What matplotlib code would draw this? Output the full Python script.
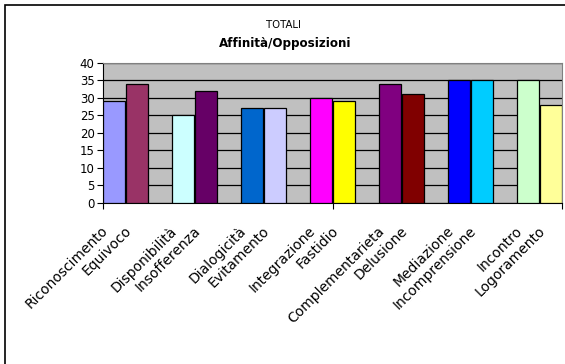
import matplotlib.pyplot as plt
from matplotlib.patches import Rectangle
from matplotlib.transforms import ScaledTranslation
import numpy as np

labels = ['Riconoscimento', 'Equivoco', 'Disponibilità', 'Insofferenza',
          'Dialogicità', 'Evitamento', 'Integrazione', 'Fastidio',
          'Complementarieta', 'Delusione', 'Mediazione', 'Incomprensione',
          'Incontro', 'Logoramento']
values = [29, 34, 25, 32, 27, 27, 30, 29, 34, 31, 35, 35, 35, 28]
colors = ['#9999FF', '#993366', '#CCFFFF', '#660066', '#0066CC', '#CCCCFF',
          '#FF00FF', '#FFFF00', '#800080', '#800000', '#0000FF', '#00CCFF',
          '#CCFFCC', '#FFFF99']

# pairs of bars, one empty slot between pairs
x = np.array([3 * (i // 2) + (i % 2) for i in range(len(values))])

fig = plt.figure(figsize=(5.65, 3.64), dpi=100)
ax = fig.add_axes([103 / 565, 1 - 203 / 364, 459 / 565, 140.5 / 364])

ax.set_facecolor('#C0C0C0')
ax.set_axisbelow(True)
ax.yaxis.grid(True, color='black', linewidth=0.9)
ax.bar(x, values, width=0.93, color=colors, edgecolor='black', linewidth=0.9, zorder=3)

lo, hi = x[0] - 0.47, x[-1] + 0.47
ax.set_xlim(lo, hi)
ax.set_ylim(0, 40)
ax.set_yticks(range(0, 41, 5))

ax.set_xticks([lo, (lo + hi) / 2, hi])
ax.set_xticklabels([])
ax.set_xticks(x, minor=True)
ax.set_xticklabels(labels, minor=True, rotation=45, ha='right', va='center',
                   rotation_mode='anchor', fontsize=10)
ax.tick_params(axis='x', which='major', length=4, direction='out', color='black')
ax.tick_params(axis='x', which='minor', length=0, pad=18.5)
ax.tick_params(axis='y', length=4, direction='out', labelsize=8.5, pad=2)

shift = ScaledTranslation(-8 / 100, 0, fig.dpi_scale_trans)
for t in ax.get_xticklabels(minor=True):
    t.set_transform(t.get_transform() + shift)

for s in ['top', 'right']:
    ax.spines[s].set_color('#808080')
for s in ['left', 'bottom']:
    ax.spines[s].set_color('black')

fig.text(284 / 565, 1 - 25 / 364, 'TOTALI', ha='center', va='center', fontsize=7.3)
fig.text(285 / 565, 1 - 43 / 364, 'Affinità/Opposizioni', ha='center', va='center',
         fontsize=8.6, fontweight='bold')

fig.patches.append(Rectangle((5 / 565, -0.1), 1.2, 1.1 - 5 / 364, transform=fig.transFigure,
                             fill=False, edgecolor='black', linewidth=1.2))

fig.savefig('out.png', dpi=100)
